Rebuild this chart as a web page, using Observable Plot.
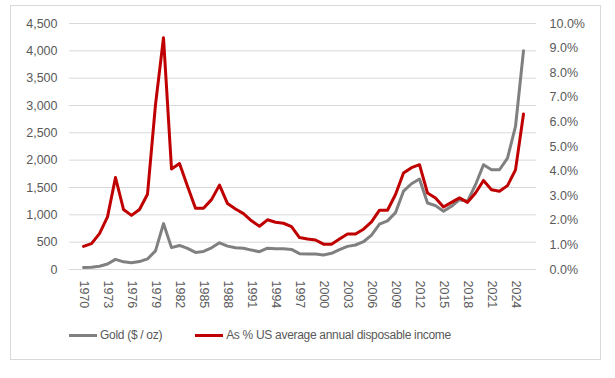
<!DOCTYPE html>
<html>
<head>
<meta charset="utf-8">
<script src="https://cdn.jsdelivr.net/npm/d3@7"></script>
<script src="https://cdn.jsdelivr.net/npm/@observablehq/plot@0.6"></script>
<style>
  body { margin: 0; background: #fff; }
  #wrap { position: relative; width: 615px; height: 378px; overflow: hidden; }
  #frame { position: absolute; left: 10px; top: 5px; width: 591px; height: 355px; border: 1px solid #d9d9d9; box-sizing: border-box; }
  #chart { position: absolute; left: 0; top: 0; }
  #legend { position: absolute; left: 69px; top: 328px; font-family: "Liberation Sans", Arial, sans-serif; font-size: 12px; letter-spacing: -0.3px; color: #595959; white-space: nowrap; display: flex; align-items: center; }
  .item { display: flex; align-items: center; }
  .sw { display: inline-block; width: 28px; height: 3px; margin-right: 3px; }
</style>
</head>
<body>
<div id="wrap">
  <div id="frame"></div>
  <div id="chart"></div>
  <div id="legend">
    <span class="item"><span class="sw" style="background:#808080"></span>Gold ($ / oz)</span>
    <span class="item" style="margin-left:33px"><span class="sw" style="background:#C00000"></span>As % US average annual disposable income</span>
  </div>
</div>
<script>
const years = [1970,1971,1972,1973,1974,1975,1976,1977,1978,1979,
  1980,1981,1982,1983,1984,1985,1986,1987,1988,1989,
  1990,1991,1992,1993,1994,1995,1996,1997,1998,1999,
  2000,2001,2002,2003,2004,2005,2006,2007,2008,2009,
  2010,2011,2012,2013,2014,2015,2016,2017,2018,2019,
  2020,2021,2022,2023,2024,2025];

// Gold ($ / oz), left axis
const gold = [36,40,60,100,185,140,125,145,193,340,
  840,400,440,386,313,330,397,488,428,397,
  390,355,325,390,380,380,368,290,284,284,
  266,296,363,423,448,508,629,829,889,1040,
  1433,1569,1655,1217,1168,1064,1156,1277,1247,1551,
  1916,1825,1825,2038,2616,4002];

// As % US average annual disposable income, right axis (percent)
const pct = [0.94,1.05,1.46,2.14,3.74,2.44,2.20,2.44,3.06,6.70,
  9.42,4.09,4.31,3.38,2.49,2.49,2.84,3.43,2.68,2.46,
  2.27,1.98,1.76,2.02,1.92,1.88,1.74,1.30,1.24,1.20,
  1.03,1.03,1.24,1.44,1.44,1.64,1.94,2.41,2.41,3.05,
  3.92,4.14,4.26,3.11,2.91,2.54,2.73,2.91,2.73,3.11,
  3.62,3.24,3.18,3.41,4.05,6.32];

const leftTicks = [0,500,1000,1500,2000,2500,3000,3500,4000,4500];
const rightTicks = [0,1,2,3,4,5,6,7,8,9,10];
const xTicks = [1970,1973,1976,1979,1982,1985,1988,1991,1994,1997,2000,2003,2006,2009,2012,2015,2018,2021,2024];

// right axis 0–10% shares the left 0–4,500 range
const pctMax = 10, goldMax = 4500;
const k = goldMax / pctMax;

const data = years.map((y, i) => ({year: y, gold: gold[i], pct: pct[i]}));

const chart = Plot.plot({
  width: 615,
  height: 325,
  marginLeft: 69,
  marginRight: 79,
  marginTop: 23,
  marginBottom: 56,
  style: {fontFamily: "'Liberation Sans', Arial, sans-serif", fontSize: "12.5px", color: "#595959", background: "transparent", overflow: "visible"},
  x: {type: "point", domain: years, padding: 0.5},
  y: {domain: [0, goldMax]},
  marks: [
    Plot.gridY(leftTicks, {stroke: "#d9d9d9", strokeOpacity: 1, strokeWidth: 1}),
    Plot.axisY(leftTicks, {anchor: "left", tickSize: 0, tickPadding: 12, tickFormat: d3.format(","), label: null, fill: "#595959"}),
    Plot.axisY(rightTicks.map(p => p * k), {anchor: "right", tickSize: 0, tickPadding: 13, tickFormat: d => (d / k).toFixed(1) + "%", label: null, fill: "#595959"}),
    Plot.axisX(xTicks, {tickRotate: 90, tickSize: 0, tickPadding: 11, tickFormat: d => String(d), label: null, fill: "#595959"}),
    Plot.line(data, {x: "year", y: "gold", stroke: "#808080", strokeWidth: 3}),
    Plot.line(data, {x: "year", y: d => d.pct * k, stroke: "#C00000", strokeWidth: 3})
  ]
});
document.getElementById("chart").appendChild(chart);
</script>
</body>
</html>
